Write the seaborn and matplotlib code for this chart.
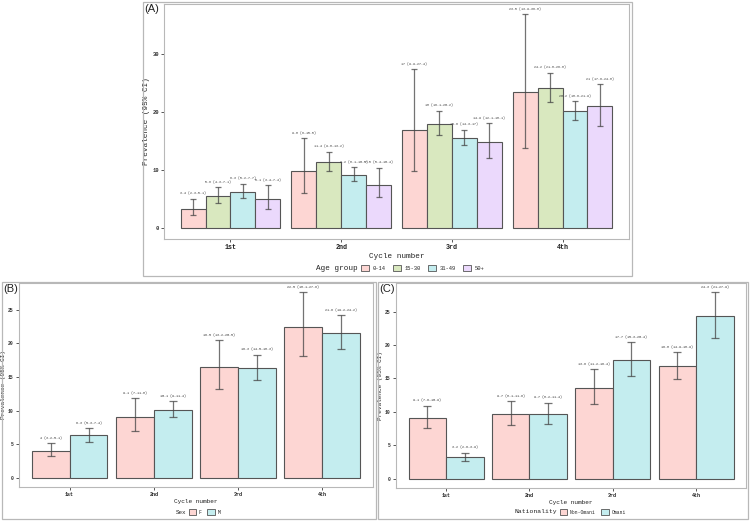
import numpy as np
import pandas as pd
import matplotlib
matplotlib.use("Agg")
import matplotlib.pyplot as plt
from matplotlib.patches import Patch, Rectangle
import seaborn as sns

# ── data ───────────────────────────────────────────────────────────
cycles = ["1st", "2nd", "3rd", "4th"]

age_groups = ["0-14", "15-30", "31-49", "50+"]
age_est = {"0-14": [3.4, 9.8, 17, 23.5], "15-30": [5.6, 11.4, 18, 24.2],
           "31-49": [6.3, 9.2, 15.6, 20.2], "50+": [5.1, 7.5, 14.9, 21]}
age_lo = {"0-14": [2.3, 6, 9.9, 13.9], "15-30": [4.3, 9.8, 16.1, 21.8],
          "31-49": [5.2, 8.1, 14.3, 18.6], "50+": [3.4, 5.4, 12.1, 17.6]}
age_hi = {"0-14": [5.1, 15.5, 27.4, 36.8], "15-30": [7.1, 13.2, 20.2, 26.8],
          "31-49": [7.7, 10.5, 17, 21.9], "50+": [7.4, 10.4, 18.1, 24.8]}

sex_groups = ["F", "M"]
sex_est = {"F": [4, 9.1, 16.5, 22.5], "M": [6.3, 10.1, 16.3, 21.6]}
sex_lo = {"F": [3.2, 7, 13.2, 18.1], "M": [5.3, 9, 14.5, 19.2]}
sex_hi = {"F": [5.1, 11.8, 20.5, 27.6], "M": [7.4, 11.4, 18.3, 24.2]}

nat_groups = ["Non-Omani", "Omani"]
nat_est = {"Non-Omani": [9.1, 9.7, 13.6, 16.8], "Omani": [3.2, 9.7, 17.7, 24.3]}
nat_lo = {"Non-Omani": [7.6, 8.1, 11.2, 14.9], "Omani": [2.6, 8.2, 15.3, 21]}
nat_hi = {"Non-Omani": [10.9, 11.6, 16.4, 18.9], "Omani": [3.9, 11.4, 20.4, 27.9]}

C4 = ["#FDD6D3", "#D9E8BF", "#C4EDEF", "#EBD9FC"]
C2 = ["#FDD6D3", "#C4EDEF"]

sns.set_style("white")
plt.rcParams["font.family"] = ["Liberation Mono", "DejaVu Sans Mono"]
EDGE = "#555555"
BOX = "#b8b8b8"
W, H = 750, 521


def fx(x):
    return x / W


def fy(y):
    return 1 - y / H


def draw_panel(ax, groups, est, lo, hi, colors, ylim, yticks,
               fs_tick, fs_ytick, fs_lab, cap, fs_val):
    rows = []
    for g in groups:
        for c, v in zip(cycles, est[g]):
            rows.append({"cycle": c, "group": g, "val": v})
    df = pd.DataFrame(rows)
    sns.barplot(data=df, x="cycle", y="val", hue="group", order=cycles,
                hue_order=groups, palette=colors, saturation=1, width=0.9,
                errorbar=None, edgecolor=EDGE, linewidth=0.8, legend=False,
                ax=ax, zorder=2)
    for cont, g in zip(ax.containers, groups):
        for bar, v, l, h in zip(cont, est[g], lo[g], hi[g]):
            xc = bar.get_x() + bar.get_width() / 2
            ax.errorbar(xc, v, yerr=[[v - l], [h - v]], fmt="none",
                        ecolor="#444444", alpha=0.75, elinewidth=0.9,
                        capsize=cap, capthick=0.9, zorder=3)
            ax.annotate(f"{v:g} ({l:g}-{h:g})", (xc, h), xytext=(0, 2.5),
                        textcoords="offset points", ha="center", va="bottom",
                        fontsize=fs_val, color="#333333")
    ax.set_xlim(-0.6, 3.6)
    ax.set_ylim(*ylim)
    ax.set_yticks(yticks)
    ax.set_yticklabels([str(t) for t in yticks], fontsize=fs_ytick,
                       fontweight="bold", color="#333333")
    ax.set_xticks(range(len(cycles)))
    ax.set_xticklabels(cycles, fontsize=fs_tick, fontweight="bold", color="#222222")
    ax.tick_params(axis="both", length=2.5, width=0.7, color="#555555", pad=1.2,
                   left=True, bottom=True)
    ax.set_xlabel("Cycle number", fontsize=fs_lab, color="#222222", labelpad=1.5)
    ax.set_ylabel("Prevalence (95% CI)", fontsize=fs_lab, color="#222222", labelpad=1.5)
    for sp in ax.spines.values():
        sp.set_visible(True)
        sp.set_color(BOX)
        sp.set_linewidth(0.8)
    ax.grid(False)


def add_legend(fig, title, groups, colors, x_title, x_box, y, fs_t, fs_l, colsp):
    fig.text(fx(x_title), fy(y), title, ha="right", va="center",
             fontsize=fs_t, color="#222222")
    handles = [Patch(facecolor=c, edgecolor=EDGE, linewidth=0.6) for c in colors]
    fig.legend(handles, groups, loc="center left",
               bbox_to_anchor=(fx(x_box), fy(y)), bbox_transform=fig.transFigure,
               ncol=len(groups), frameon=False, fontsize=fs_l,
               handlelength=1.5, handleheight=1.5, handletextpad=0.6,
               columnspacing=colsp, borderpad=0, borderaxespad=0)


fig = plt.figure(figsize=(7.5, 5.21), dpi=100)


def fbox(x0, y0, x1, y1):
    return [x0 / W, 1 - y1 / H, (x1 - x0) / W, (y1 - y0) / H]


axA = fig.add_axes(fbox(164, 4, 629, 239))
axB = fig.add_axes(fbox(19, 283, 373, 487))
axC = fig.add_axes(fbox(396, 283, 746, 488))

draw_panel(axA, age_groups, age_est, age_lo, age_hi, C4, (-1.84, 38.6),
           [0, 10, 20, 30], 4.8, 4, 5.5, 2.2, 2.3)
draw_panel(axB, sex_groups, sex_est, sex_lo, sex_hi, C2, (-1.38, 29.0),
           [0, 5, 10, 15, 20, 25], 3.6, 3.4, 4.4, 2.8, 2.4)
draw_panel(axC, nat_groups, nat_est, nat_lo, nat_hi, C2, (-1.4, 29.3),
           [0, 5, 10, 15, 20, 25], 3.6, 3.4, 4.4, 2.8, 2.4)

add_legend(fig, "Age group", age_groups, C4, 358, 361, 268, 5.5, 4, 1.3)
add_legend(fig, "Sex", sex_groups, C2, 186, 189, 512, 4.2, 3.4, 1.2)
add_legend(fig, "Nationality", nat_groups, C2, 557, 560, 512, 4.6, 3.4, 1.2)

# outer panel frames and tags
for (x0, y0, x1, y1), tag in [((143, 2, 632, 276), "(A)"),
                              ((2, 282, 376, 519), "(B)"),
                              ((378, 282, 748, 519), "(C)")]:
    b = fbox(x0, y0, x1, y1)
    fig.patches.append(Rectangle((b[0], b[1]), b[2], b[3], transform=fig.transFigure,
                                 fill=False, edgecolor=BOX, linewidth=0.9))
    fig.text((x0 + 1.5) / W, 1 - (y0 + 2) / H, tag, ha="left", va="top",
             fontsize=8, family="Liberation Sans", color="#222222")

fig.savefig("out.png", dpi=100)
